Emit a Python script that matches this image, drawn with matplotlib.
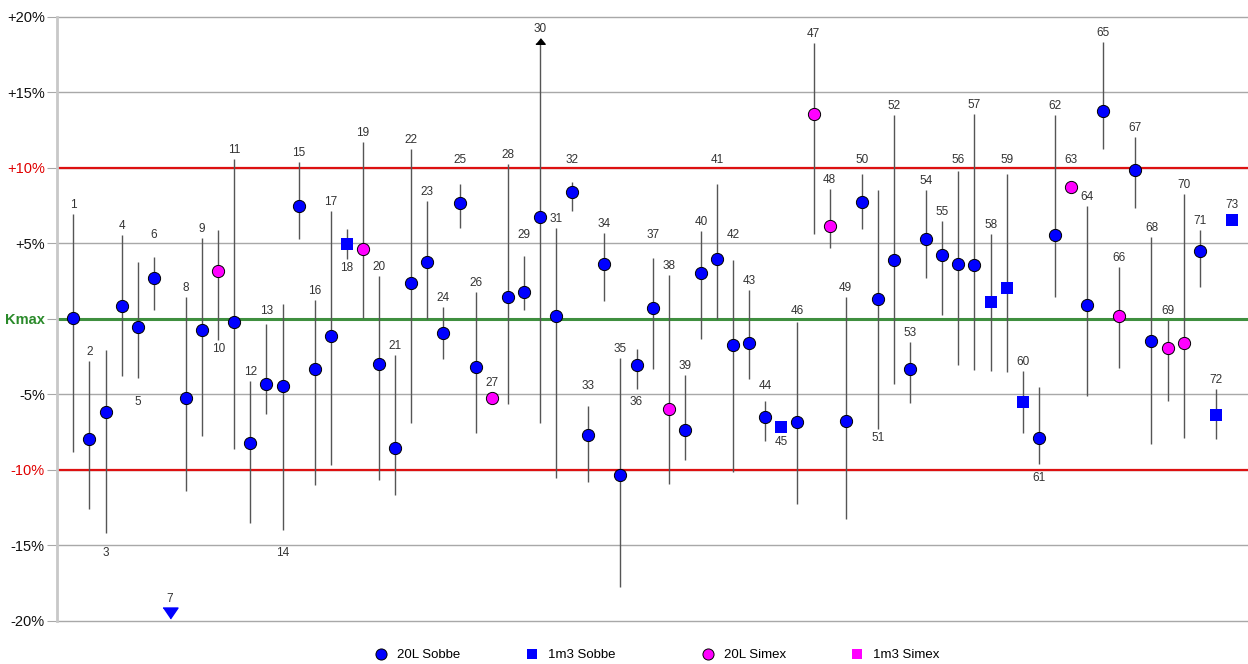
import numpy as np
import matplotlib
matplotlib.use('Agg')
import matplotlib.pyplot as plt
from matplotlib.lines import Line2D

nan = np.nan

# sample numbers along the x axis
sample_no = list(range(1, 74))

# S20 = 20L Sobbe, S1 = 1m3 Sobbe, X20 = 20L Simex, X1 = 1m3 Simex
series = ['S20', 'S20', 'S20', 'S20', 'S20', 'S20', 'S20', 'S20', 'S20', 'X20',
          'S20', 'S20', 'S20', 'S20', 'S20', 'S20', 'S20', 'S1', 'X20', 'S20',
          'S20', 'S20', 'S20', 'S20', 'S20', 'S20', 'X20', 'S20', 'S20', 'S20',
          'S20', 'S20', 'S20', 'S20', 'S20', 'S20', 'S20', 'X20', 'S20', 'S20',
          'S20', 'S20', 'S20', 'S20', 'S1', 'S20', 'X20', 'X20', 'S20', 'S20',
          'S20', 'S20', 'S20', 'S20', 'S20', 'S20', 'S20', 'S1', 'S1', 'S1',
          'S20', 'S20', 'X20', 'S20', 'S20', 'X20', 'S20', 'S20', 'X20', 'X20',
          'S20', 'S1', 'S1']

# deviation from Kmax in %
values = [0.07, -7.96, -6.2, 0.84, -0.55, 2.68, nan, -5.28, -0.75, 3.16,
          -0.22, -8.2, -4.33, -4.46, 7.43, -3.36, -1.15, 4.93, 4.6, -3.03,
          -8.55, 2.39, 3.76, -0.93, 7.69, -3.23, -5.28, 1.46, 1.79, 6.76,
          0.18, 8.38, -7.67, 3.65, -10.32, -3.07, 0.73, -5.99, -7.36, 3.03,
          3.96, -1.74, -1.61, -6.52, -7.16, -6.87, 13.55, 6.17, -6.78, 7.74,
          1.31, 3.87, -3.31, 5.29, 4.24, 3.65, 3.54, 1.11, 2.02, -5.52,
          -7.91, 5.55, 8.75, 0.91, 13.75, 0.18, 9.86, -1.46, -1.96, -1.63,
          4.51, -6.37, 6.56]

upper = [6.9, -2.8, -2.1, 5.55, 3.74, 4.09, nan, 1.46, 5.33, 5.9,
         10.6, -4.13, -0.35, 0.99, 10.35, 1.22, 7.14, 5.93, 11.7, 2.81,
         -2.43, 11.25, 7.8, 0.78, 8.93, 1.77, nan, 10.24, 4.16, 18.4,
         6.03, 9.05, -5.79, 5.68, -2.59, -2.03, 4.0, 2.9, -3.73, 5.82,
         8.93, 3.91, 1.9, -5.48, nan, -0.2, 18.26, 8.58, 1.46, 9.6,
         8.49, 13.49, -1.57, 8.51, 6.46, 9.77, 13.57, 5.6, 9.57, -3.47,
         -4.55, 13.49, nan, 7.47, 18.3, 3.45, 12.05, 5.44, -0.09, 8.25,
         5.88, -4.68, nan]

lower = [-8.8, -12.6, -14.2, -3.8, -3.9, 0.58, nan, -11.4, -7.8, -1.41,
         -8.6, -13.5, -6.34, -14.0, 5.26, -11.0, -9.66, 3.94, 0.07, -10.7,
         -11.7, -6.94, 0.0, -2.67, 6.01, -7.6, -5.72, -5.68, 0.58, -6.9,
         -10.58, 7.12, -10.8, 1.19, -17.8, -4.66, -3.31, -10.98, -9.35, -1.35,
         0.0, -10.15, -4.02, -8.13, nan, -12.24, 5.6, 4.67, -13.26, 5.93,
         -7.33, -4.35, -5.57, 2.68, 0.25, -3.09, -3.42, -3.47, -3.55, -7.6,
         -9.59, 1.46, nan, -5.13, 11.23, -3.25, 7.36, -8.33, -5.46, -7.89,
         2.12, -8.0, nan]

# sample 7 lies below the scale, sample 30 runs over the top
below_scale = [7]
arrow_up = [30]

tick_values = [20, 15, 10, 5, 0, -5, -10, -15, -20]
tick_labels = ['+20%', '+15%', '+10%', '+5%', 'Kmax', '-5%', '-10%', '-15%', '-20%']

legend_codes = ['S20', 'S1', 'X20', 'X1']
legend_names = ['20L Sobbe', '1m3 Sobbe', '20L Simex', '1m3 Simex']

# labels drawn under the whisker instead of above
labels_below = {3, 5, 10, 14, 18, 36, 45, 51, 61}

plt.rcParams['font.family'] = ['Liberation Sans', 'DejaVu Sans']

styles = {
    'S20': dict(marker='o', mfc='#0000ff', mec='#000000', mew=0.7),
    'S1': dict(marker='s', mfc='#0000ff', mec='#0000ff', mew=0.0),
    'X20': dict(marker='o', mfc='#ff00ff', mec='#000000', mew=0.7),
    'X1': dict(marker='s', mfc='#ff00ff', mec='#ff00ff', mew=0.0),
}

W, H = 1248, 664
fig = plt.figure(figsize=(W / 100, H / 100), dpi=100)
ax_h = 0.9097
ax = fig.add_axes([0.0459, 0.0652, 0.9541, ax_h])
ax.set_xlim(0, 74)
ax.set_ylim(-20, 20)
ppu = ax_h * H / 40.0  # pixels per % on the y axis

x = np.array(sample_no, dtype=float)
v = np.array(values)
hi = np.array(upper)
lo = np.array(lower)
codes = np.array(series)

# grid and reference lines
ax.set_axisbelow(True)
ax.set_xticks([])
ax.set_yticks(tick_values, tick_labels)
ax.grid(axis='y', color='#a8a8a8', linewidth=1.0)
for gl in ax.get_ygridlines():
    gl.set_clip_on(False)
ax.axhline(10, color='#dd1111', linewidth=1.6, zorder=1.8)
ax.axhline(-10, color='#dd1111', linewidth=1.6, zorder=1.8)
ax.axhline(0, color='#3f8f3f', linewidth=2.2, zorder=1.8)
for side in ['top', 'right', 'bottom']:
    ax.spines[side].set_visible(False)
ax.spines['left'].set_color('#c8c8c8')
ax.spines['left'].set_linewidth(2.0)
ax.tick_params(axis='y', length=7, color='#a8a8a8', pad=2, labelsize=10.5, labelcolor='#111111')
for lab, val in zip(ax.get_yticklabels(), tick_values):
    if abs(val) == 10:
        lab.set_color('#e00000')
    elif val == 0:
        lab.set_color('#2a8a2a')
        lab.set_fontweight('bold')

# whiskers
has_line = ~np.isnan(hi) & ~np.isnan(lo)
ax.vlines(x[has_line], lo[has_line], hi[has_line], color='#555555', linewidth=1.0, zorder=2)

# markers per series
for code in styles:
    mask = (codes == code) & ~np.isnan(v)
    ax.plot(x[mask], v[mask], linestyle='none', ms=8.8, zorder=4, clip_on=False, **styles[code])

# off-scale markers
down_tri = [(-1, 0.73), (1, 0.73), (0, -0.73)]
up_tri = [(-1, -0.6), (1, -0.6), (0, 0.6)]
for n in below_scale:
    ax.plot(n, -20 + 0.5, linestyle='none', marker=down_tri, ms=10.8,
            color='#0000ff', zorder=4, clip_on=False)
for n in arrow_up:
    ax.plot(n, upper[n - 1], linestyle='none', marker=up_tri, ms=6.7,
            color='#000000', zorder=4)

# number labels, nudged off the horizontal lines
grid_y = np.array(tick_values, dtype=float)
r = 6 / ppu
gap = 9 / ppu


def nudge(y, direction):
    near = grid_y[np.abs(grid_y - y) < 10 / ppu]
    if len(near):
        y = near[0] + direction * 8 / ppu
    return y


for i, n in enumerate(sample_no):
    if n in below_scale:
        y = -20 + 0.5 + 5.5 / ppu + gap
    elif n in arrow_up:
        y = hi[i] + 3 / ppu + gap
    elif n in labels_below:
        y = nudge(np.fmin(lo[i], v[i] - r) - gap, -1)
    else:
        y = nudge(np.fmax(hi[i], v[i] + r) + gap, 1)
    ax.text(n, y, str(n), ha='center', va='center', fontsize=8.5, color='#333333', zorder=5)

# legend, one entry per series along the bottom
legend_left = [374.75, 525.75, 701.75, 850.75]
for code, name, xpx in zip(legend_codes, legend_names, legend_left):
    st = styles[code]
    h = Line2D([], [], linestyle='none', marker=st['marker'], ms=8 if st['marker'] == 'o' else 7.5,
               mfc=st['mfc'], mec=st['mec'], mew=st['mew'])
    fig.legend([h], [name], loc='center left', bbox_to_anchor=(xpx / W, 9 / H),
               frameon=False, fontsize=9.5, handlelength=1.0, handletextpad=0.72,
               borderpad=0, borderaxespad=0)

fig.savefig('out.png', dpi=100)
plt.close(fig)
